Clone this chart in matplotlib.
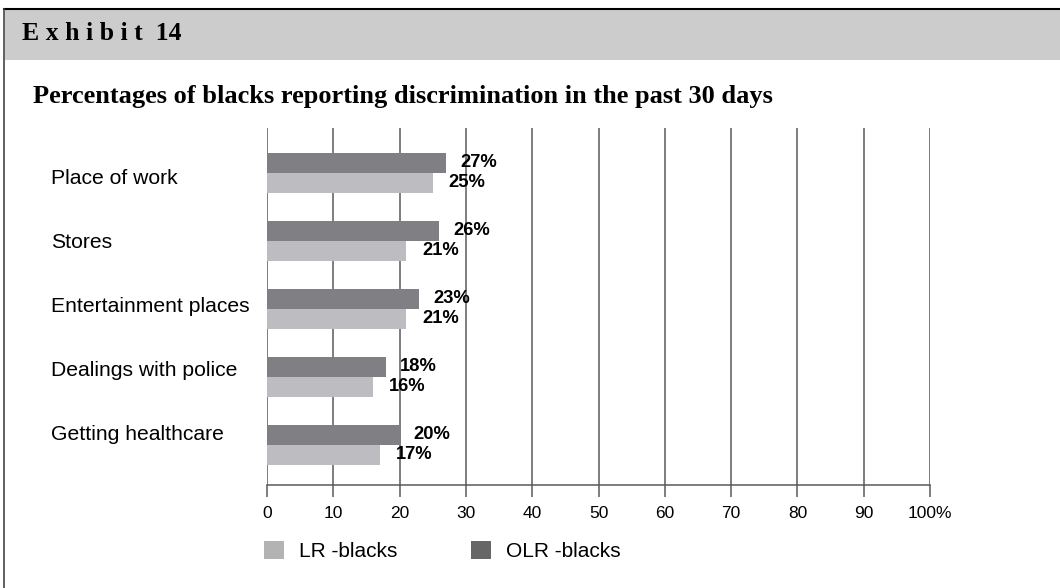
import numpy as np
import matplotlib
matplotlib.use('Agg')
import matplotlib.pyplot as plt
import matplotlib.transforms as mtransforms
from matplotlib.patches import Rectangle, Patch
from matplotlib.lines import Line2D

categories = ['Place of work', 'Stores', 'Entertainment places',
              'Dealings with police', 'Getting healthcare']
olr_blacks = [27, 26, 23, 18, 20]
lr_blacks = [25, 21, 21, 16, 17]
tick_values = list(range(0, 101, 10))
tick_labels = ['0', '10', '20', '30', '40', '50', '60', '70', '80', '90', '100%']

W, H = 1060, 588
dark_bar = '#808084'
light_bar = '#bdbdc1'
grid_col = '#5a5a5a'
sans = ['Liberation Sans', 'DejaVu Sans']
serif = ['Liberation Serif', 'DejaVu Serif']

fig = plt.figure(figsize=(W / 100, H / 100), dpi=100)

# header band and border
fig.patches.append(Rectangle((5 / W, 1 - 60 / H), 1, 50 / H, transform=fig.transFigure,
                             facecolor='#cccccc', edgecolor='none', zorder=0))
fig.lines.append(Line2D([4 / W, 1], [1 - 9 / H, 1 - 9 / H], transform=fig.transFigure,
                        color='black', lw=1.5))
fig.lines.append(Line2D([4 / W, 4 / W], [0, 1 - 9 / H], transform=fig.transFigure,
                        color='#444444', lw=1.2))
fig.text(22 / W, 1 - 34 / H, 'E x h i b i t  14', family=serif, weight='bold',
         fontsize=18.5, va='center', ha='left')
fig.text(33 / W, 1 - 96 / H, 'Percentages of blacks reporting discrimination in the past 30 days',
         family=serif, weight='bold', fontsize=19, va='center', ha='left')

ax = fig.add_axes([267 / W, (H - 485) / H, (930 - 267) / W, (485 - 128) / H])
y = np.arange(len(categories))
h = 0.294
ax.barh(y - h / 2, olr_blacks, height=h, color=dark_bar, zorder=2)
ax.barh(y + h / 2, lr_blacks, height=h, color=light_bar, zorder=2)

for yi, v in zip(y, olr_blacks):
    ax.annotate(f'{v}%', (v, yi - h / 2), xytext=(10, 0), textcoords='offset points',
                va='center', ha='left', fontsize=13.2, weight='bold', family=sans, zorder=3)
for yi, v in zip(y, lr_blacks):
    ax.annotate(f'{v}%', (v, yi + h / 2), xytext=(11.5, 0), textcoords='offset points',
                va='center', ha='left', fontsize=13.2, weight='bold', family=sans, zorder=3)

ax.set_xlim(0, 100)
ax.set_ylim(4.59, -0.66)
ax.set_xticks(tick_values)
ax.set_xticklabels(tick_labels, family=sans, fontsize=12.5)
ax.set_yticks([])
ax.tick_params(axis='x', direction='out', length=8.6, width=1.1, color=grid_col, pad=6.5)
ax.grid(axis='x', color=grid_col, lw=1.1, zorder=0)
ax.set_axisbelow(True)
for s in ['top', 'right', 'left']:
    ax.spines[s].set_visible(False)
ax.spines['bottom'].set_color(grid_col)
ax.spines['bottom'].set_linewidth(1.1)

# category labels, left aligned
trans = mtransforms.blended_transform_factory(fig.transFigure, ax.transData)
for yi, name in zip(y, categories):
    ax.text(51 / W, yi * 0.94 + 0.09, name, transform=trans, ha='left', va='center',
            fontsize=15.2, family=sans)

handles = [Patch(facecolor='#b3b3b3', label='LR -blacks'),
           Patch(facecolor='#666666', label='OLR -blacks')]
fig.legend(handles=handles, loc='center left', bbox_to_anchor=(264 / W, 1 - 551 / H),
           ncol=2, frameon=False, prop={'family': sans, 'size': 15},
           handlelength=0.95, handleheight=0.95, handletextpad=0.75,
           columnspacing=3.5, borderpad=0, borderaxespad=0)

fig.savefig('out.png', dpi=100)
